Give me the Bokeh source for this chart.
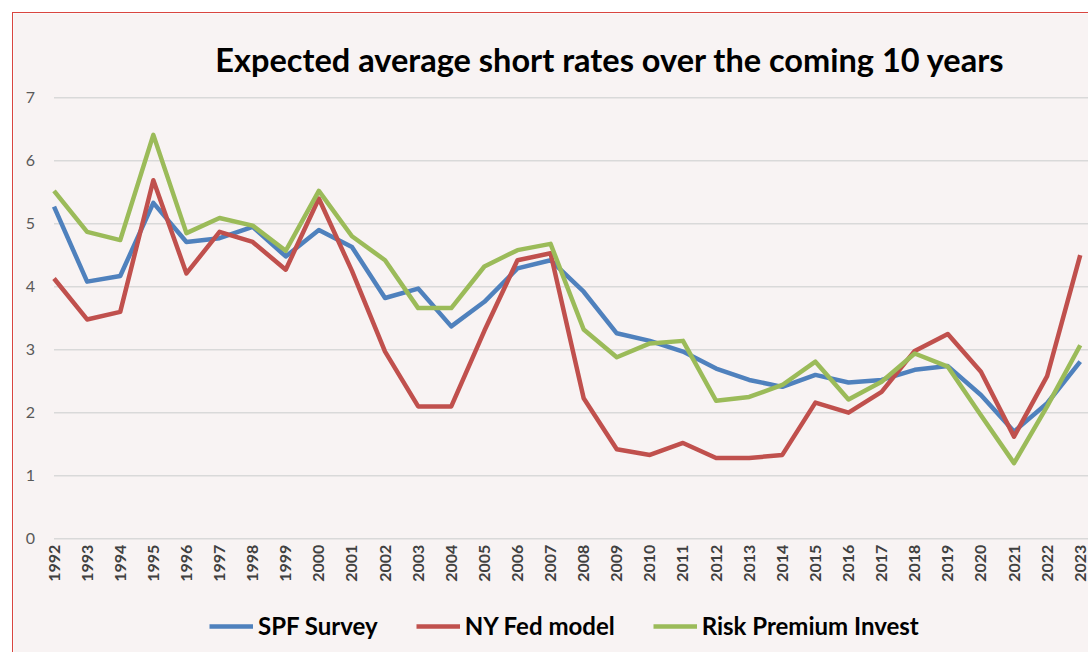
import math
from bokeh.plotting import figure
from bokeh.models import Legend, LegendItem, Label, Range1d, ColumnDataSource
from bokeh.core.properties import value
from bokeh.embed import file_html
from bokeh.resources import INLINE

years = list(range(1992, 2024))
spf = [5.27, 4.08, 4.17, 5.33, 4.71, 4.77, 4.95, 4.48, 4.90, 4.63, 3.82, 3.97, 3.37, 3.76, 4.29, 4.42,
       3.92, 3.26, 3.14, 2.97, 2.70, 2.52, 2.41, 2.60, 2.48, 2.52, 2.68, 2.74, 2.28, 1.70, 2.15, 2.81]
nyfed = [4.13, 3.48, 3.60, 5.69, 4.21, 4.87, 4.71, 4.27, 5.40, 4.25, 2.97, 2.10, 2.10, 3.30, 4.42, 4.53,
         2.23, 1.42, 1.33, 1.52, 1.28, 1.28, 1.33, 2.16, 2.00, 2.33, 2.98, 3.25, 2.65, 1.62, 2.58, 4.50]
rpi = [5.52, 4.87, 4.74, 6.41, 4.85, 5.09, 4.97, 4.57, 5.52, 4.80, 4.42, 3.66, 3.66, 4.32, 4.58, 4.68,
       3.32, 2.88, 3.10, 3.14, 2.19, 2.25, 2.44, 2.81, 2.21, 2.49, 2.94, 2.73, 1.96, 1.20, 2.10, 3.07]
series_names = ["SPF Survey", "NY Fed model", "Risk Premium Invest"]
y_ticks = [0, 1, 2, 3, 4, 5, 6, 7]
y_tick_labels = [str(t) for t in y_ticks]
year_labels = [str(y) for y in years]
title_text = "Expected average short  rates over the coming 10 years"

PINK = "#F8F3F3"
GRID = "#D9D9D9"
COLORS = ["#4F81BD", "#C0504D", "#9BBB59"]
FONT = "Lato"

X0, X1 = 1990.776, 2023.28
p = figure(width=1076, height=640, output_backend="svg", toolbar_location=None,
           x_range=Range1d(X0, X1), y_range=Range1d(-1.822, 8.336),
           min_border_left=0, min_border_right=0, min_border_top=0, min_border_bottom=0,
           background_fill_color=PINK, border_fill_color=PINK, outline_line_color=None,
           x_axis_location=None, y_axis_location=None)
p.styles = {"margin-left": "12px", "margin-top": "12px",
            "border-left": "1.5px solid #D9453F", "border-top": "1.5px solid #D9453F"}
p.xgrid.grid_line_color = None
p.ygrid.grid_line_color = None

# horizontal gridlines at the value ticks, starting at the first category
gsrc = ColumnDataSource(dict(x0=[years[0]] * len(y_ticks), x1=[X1] * len(y_ticks), y=y_ticks, t=y_tick_labels))
p.segment(x0="x0", x1="x1", y0="y", y1="y", source=gsrc, line_color=GRID, line_width=1.5)

# value labels
p.text(x="x0", y="y", text="t", source=gsrc, x_offset=-19, text_align="right", text_baseline="middle",
       text_font=value(FONT), text_font_size="16px", text_color="#595959")

# category (year) labels, rotated, hanging below the zero line
src = ColumnDataSource(dict(x=years, y=[0] * len(years), t=year_labels))
p.text(x="x", y="y", text="t", source=src, angle=math.pi / 2, y_offset=6,
       text_align="right", text_baseline="middle",
       text_font=value(FONT), text_font_style="bold", text_font_size="16px", text_color="#404040")

renderers = []
for vals, col in zip([spf, nyfed, rpi], COLORS):
    r = p.line(years, vals, line_color=col, line_width=4.5, line_join="round")
    renderers.append(r)

legend = Legend(items=[LegendItem(label=n, renderers=[r]) for n, r in zip(series_names, renderers)],
                orientation="horizontal", location=(192, 9),
                label_text_font=FONT, label_text_font_style="bold", label_text_font_size="24px",
                label_text_color="#000000",
                glyph_width=44, glyph_height=24, spacing=38, label_standoff=5,
                background_fill_alpha=0, border_line_alpha=0, padding=4, margin=0)
p.add_layout(legend, "center")

title = Label(x=2008.92, y=7.6, text=title_text, text_align="center", text_baseline="middle",
              text_font=FONT, text_font_style="bold", text_font_size="32.5px", text_color="#000000")
p.add_layout(title)

open("out.html", "w").write(file_html(p, INLINE))
